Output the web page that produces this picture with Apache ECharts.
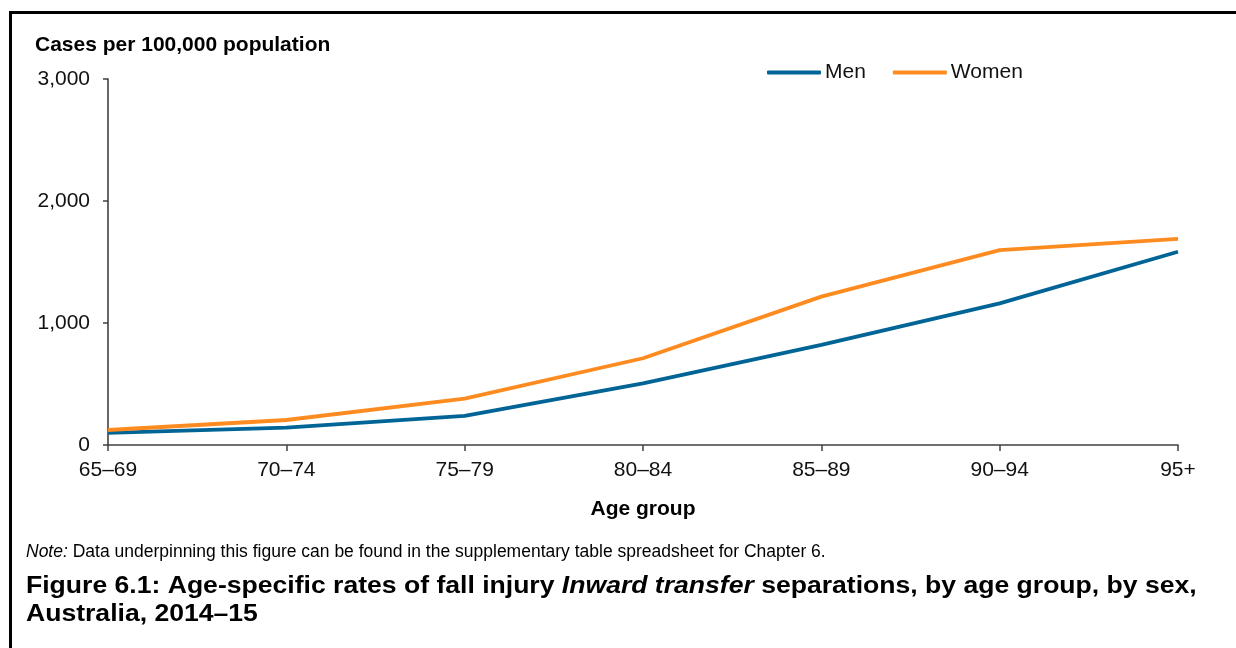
<!DOCTYPE html>
<html>
<head>
<meta charset="utf-8">
<script src="https://cdn.jsdelivr.net/npm/echarts@6/dist/echarts.min.js"></script>
<style>
  html, body { margin: 0; padding: 0; background: #fff; }
  #chart { width: 1236px; height: 648px; }
</style>
</head>
<body>
<div id="chart"></div>
<script>
  // age groups along the x axis
  var ageGroups = ['65–69', '70–74', '75–79', '80–84', '85–89', '90–94', '95+'];
  // cases per 100,000 population
  var men = [100, 142, 238, 506, 820, 1161, 1584];
  var women = [123, 205, 380, 711, 1216, 1598, 1689];
  var yTicks = [0, 1000, 2000, 3000];

  var FONT = '"Liberation Sans", Arial, sans-serif';
  var AXIS = '#404040';

  var chart = echarts.init(document.getElementById('chart'));

  var option = {
    animation: false,
    textStyle: { fontFamily: FONT, color: '#000' },
    grid: { left: 108, right: 58, top: 79, bottom: 203 },
    legend: {
      top: 57,
      left: 762,
      itemWidth: 54,
      itemHeight: 4,
      itemGap: 27,
      icon: 'roundRect',
      textStyle: { fontFamily: FONT, fontSize: 21, color: '#111', padding: [0, 0, 0, -1] },
      data: ['Men', 'Women']
    },
    xAxis: {
      type: 'category',
      data: ageGroups,
      boundaryGap: false,
      axisLine: { lineStyle: { color: AXIS, width: 1.6 } },
      axisTick: { show: true, length: 6, lineStyle: { color: AXIS, width: 1.5 } },
      axisLabel: { fontFamily: FONT, fontSize: 21, color: '#111', margin: 15 },
      name: 'Age group',
      nameLocation: 'middle',
      nameGap: 54,
      nameTextStyle: { fontFamily: FONT, fontSize: 21, fontWeight: 'bold', color: '#000' }
    },
    yAxis: {
      type: 'value',
      min: yTicks[0],
      max: yTicks[yTicks.length - 1],
      interval: 1000,
      splitLine: { show: false },
      axisLine: { show: true, lineStyle: { color: AXIS, width: 1.6 } },
      axisTick: { show: true, length: 5, lineStyle: { color: AXIS, width: 1.5 } },
      axisLabel: {
        fontFamily: FONT, fontSize: 21, color: '#111', margin: 18,
        formatter: function (v) { return v.toLocaleString('en-US'); }
      }
    },
    series: [
      {
        name: 'Men', type: 'line', data: men,
        symbol: 'none', color: '#006596',
        lineStyle: { width: 3.8, color: '#006596' }
      },
      {
        name: 'Women', type: 'line', data: women,
        symbol: 'none', color: '#fd8b1f',
        lineStyle: { width: 3.8, color: '#fd8b1f' }
      }
    ],
    graphic: [
      // figure frame: top and left rule
      { type: 'line', shape: { x1: 9, y1: 12.5, x2: 1236, y2: 12.5 }, style: { stroke: '#000', lineWidth: 3 } },
      { type: 'line', shape: { x1: 10.5, y1: 11, x2: 10.5, y2: 648 }, style: { stroke: '#000', lineWidth: 3 } },
      // y axis title
      {
        type: 'text', left: 35, top: 35,
        style: { text: 'Cases per 100,000 population', font: 'bold 21px ' + FONT, fill: '#000' }
      },
      // note
      {
        type: 'text', left: 26, top: 543,
        style: {
          text: '{i|Note:} Data underpinning this figure can be found in the supplementary table spreadsheet for Chapter 6.',
          font: '17.5px ' + FONT, fill: '#000',
          rich: { i: { fontStyle: 'italic', fontSize: 17.5, fontFamily: FONT } }
        }
      },
      // caption (the source lettering is slightly wide)
      {
        type: 'text', left: 26, top: 573, scaleX: 1.155,
        style: {
          text: 'Figure 6.1: Age-specific rates of fall injury {bi|Inward transfer} separations, by age group, by sex,\nAustralia, 2014–15',
          font: 'bold 23px ' + FONT, fill: '#000', lineHeight: 28,
          rich: { bi: { fontStyle: 'italic', fontWeight: 'bold', fontSize: 23, fontFamily: FONT, lineHeight: 28 } }
        }
      }
    ]
  };

  chart.setOption(option);
</script>
</body>
</html>
